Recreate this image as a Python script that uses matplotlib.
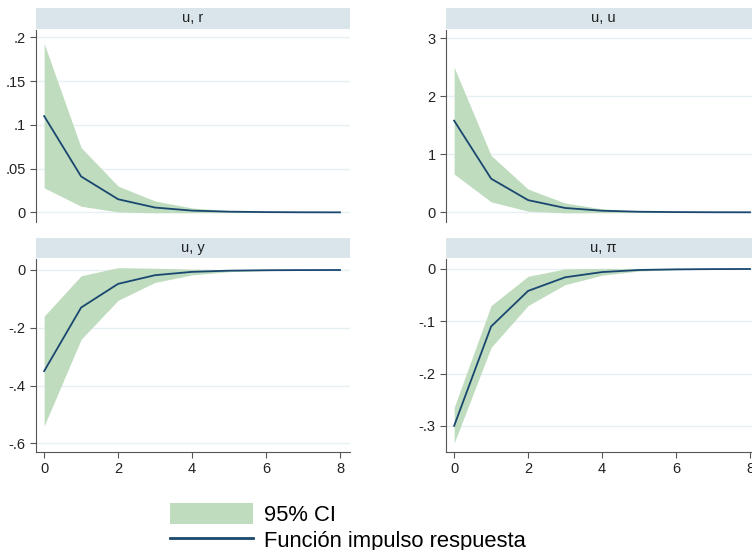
import numpy as np
import matplotlib.pyplot as plt
from matplotlib.patches import Patch
from matplotlib.lines import Line2D

plt.rcParams['font.family'] = ['Liberation Sans', 'DejaVu Sans']

pasos = [0, 1, 2, 3, 4, 5, 6, 7, 8]

# u, r
irf_r = [0.110, 0.041, 0.015, 0.0055, 0.002, 0.0008, 0.0003, 0.0001, 0.00004]
sup_r = [0.193, 0.074, 0.030, 0.013, 0.005, 0.002, 0.0008, 0.0003, 0.0001]
inf_r = [0.028, 0.007, 0.0005, -0.0005, -0.0004, -0.0002, -0.0001, 0.0, 0.0]

# u, u
irf_u = [1.58, 0.58, 0.21, 0.075, 0.027, 0.010, 0.004, 0.0013, 0.0005]
sup_u = [2.50, 0.98, 0.40, 0.16, 0.06, 0.022, 0.008, 0.003, 0.001]
inf_u = [0.66, 0.18, 0.02, -0.01, -0.006, -0.003, -0.001, -0.0005, -0.0002]

# u, y
irf_y = [-0.35, -0.13, -0.048, -0.018, -0.0065, -0.0024, -0.0009, -0.0003, -0.0001]
sup_y = [-0.16, -0.02, 0.008, 0.006, 0.003, 0.001, 0.0004, 0.0001, 0.0]
inf_y = [-0.54, -0.24, -0.105, -0.043, -0.017, -0.006, -0.002, -0.0008, -0.0003]

# u, pi
irf_p = [-0.300, -0.110, -0.042, -0.016, -0.006, -0.002, -0.0008, -0.0003, -0.0001]
sup_p = [-0.265, -0.070, -0.014, 0.000, 0.001, 0.0005, 0.0002, 0.0, 0.0]
inf_p = [-0.333, -0.150, -0.070, -0.030, -0.012, -0.004, -0.0016, -0.0006, -0.0002]

paneles = [
    ("u, r", irf_r, sup_r, inf_r, [0, .05, .1, .15, .2], ["0", ".05", ".1", ".15", ".2"], (-0.011, 0.2083)),
    ("u, u", irf_u, sup_u, inf_u, [0, 1, 2, 3], ["0", "1", "2", "3"], (-0.167, 3.143)),
    ("u, y", irf_y, sup_y, inf_y, [-.6, -.4, -.2, 0], ["-.6", "-.4", "-.2", "0"], (-0.630, 0.038)),
    ("u, \u03c0", irf_p, sup_p, inf_p, [-.3, -.2, -.1, 0], ["-.3", "-.2", "-.1", "0"], (-0.350, 0.019)),
]

W, H = 752., 550.
verde = '#bfdcbf'
azul = '#1a476f'
franja = '#d9e5ea'
rejilla = '#e6eff1'
gris = '#555555'

# pixel layout: (left, top of header, top of axes, bottom of axes)
posiciones = [(36, 8, 30, 222), (446, 8, 30, 222), (36, 238, 259, 452), (446, 238, 259, 452)]
ancho = 314

fig = plt.figure(figsize=(7.52, 5.5), dpi=100)

for i, (titulo, irf, sup, inf, yt, ytl, ylim) in enumerate(paneles):
    x0, yh, ya, yb = posiciones[i]
    ax = fig.add_axes([x0 / W, 1 - yb / H, ancho / W, (yb - ya) / H])
    ax.fill_between(pasos, inf, sup, color=verde, lw=0)
    ax.plot(pasos, irf, color=azul, lw=1.3)
    ax.set_xlim(-0.22, 8.27)
    ax.set_ylim(*ylim)
    ax.set_yticks(yt)
    ax.set_yticklabels(ytl)
    for v in yt:
        ax.axhline(v, color=rejilla, lw=1, zorder=0)
    ax.spines['top'].set_visible(False)
    ax.spines['right'].set_visible(False)
    ax.spines['left'].set_color(gris)
    ax.spines['bottom'].set_color(gris)
    ax.tick_params(axis='both', colors=gris, labelcolor='#222222', labelsize=10.5, length=4, width=0.8)
    if i < 2:
        ax.spines['bottom'].set_visible(False)
        ax.set_xticks([])
    else:
        ax.set_xticks([0, 2, 4, 6, 8])

    hx = fig.add_axes([x0 / W, 1 - (ya - 1) / H, ancho / W, (ya - 1 - yh) / H])
    hx.set_facecolor(franja)
    hx.set_xticks([])
    hx.set_yticks([])
    for s in hx.spines.values():
        s.set_visible(False)
    hx.text(0.5, 0.5, titulo, ha='center', va='center', fontsize=10.5, color='#222222', transform=hx.transAxes)

handles = [Patch(facecolor=verde, edgecolor='none'), Line2D([0], [0], color=azul, lw=2)]
fig.legend(handles, ["95% CI", "Funci\u00f3n impulso respuesta"], loc='upper left',
           bbox_to_anchor=(170 / W, 1 - 503 / H), frameon=False, fontsize=15.8,
           handlelength=3.79, handleheight=1.1, handletextpad=0.5, labelspacing=0.12,
           borderpad=0, borderaxespad=0)

fig.savefig('out.png', dpi=100, facecolor='white')
